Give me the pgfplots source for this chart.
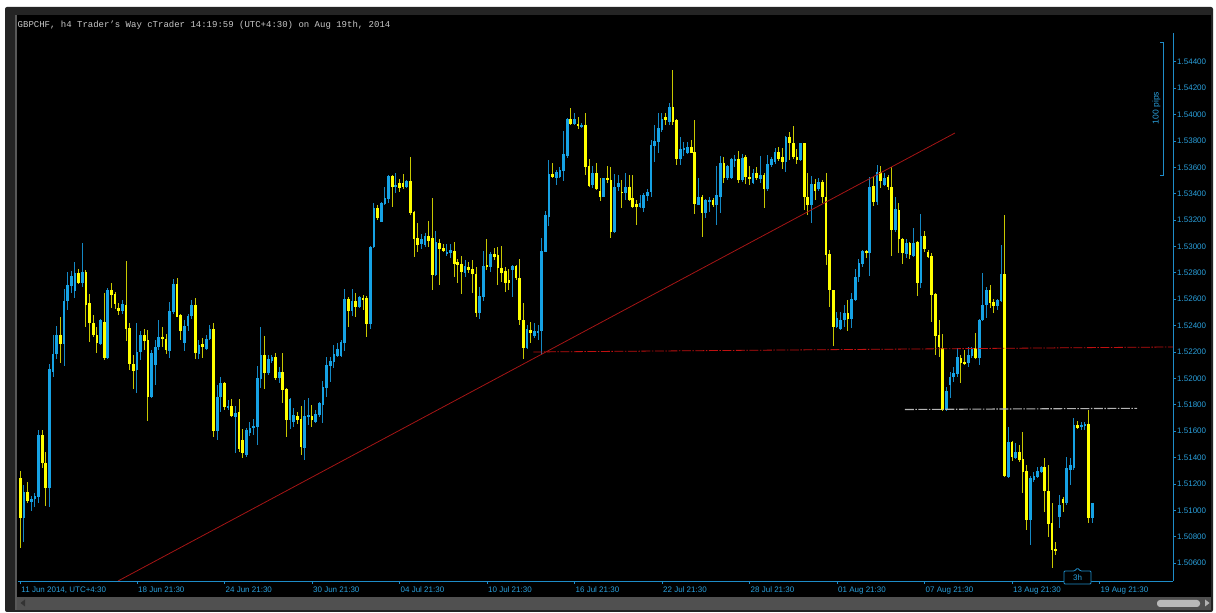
\documentclass[border=0pt]{standalone}
\usepackage{fontspec}
\setmainfont{Liberation Sans}
\newfontfamily\titlefont{Liberation Mono}
\usepackage{pgfplots}
\usepackage{pgfplotstable}
\pgfplotsset{compat=1.18}
\definecolor{cbull}{HTML}{16A2E4}
\definecolor{cbullwick}{HTML}{1488C4}
\definecolor{cbear}{HTML}{FFFF00}
\definecolor{cbearwick}{HTML}{C8C800}
\definecolor{axisblue}{HTML}{1E8CC8}
\definecolor{labelblue}{HTML}{2AA0DC}
\definecolor{trendred}{HTML}{A51515}
\definecolor{linered}{HTML}{C01010}
\definecolor{levelgrey}{HTML}{B4B4B4}
\definecolor{titlegrey}{HTML}{C8C8C8}
\definecolor{framegrey}{HTML}{242424}
\definecolor{scrollgrey}{HTML}{505050}

% GBPCHF h4 candles: bar index, open, high, low, close
\pgfplotstableread{
i o h l c
1 1.51245 1.51298 1.50714 1.50942
2 1.50942 1.51192 1.50759 1.51139
3 1.51139 1.51214 1.51055 1.51070
4 1.51063 1.51108 1.50995 1.51086
5 1.51086 1.51131 1.51025 1.51108
6 1.51101 1.51609 1.51055 1.51571
7 1.51571 1.51609 1.51321 1.51359
8 1.51359 1.51442 1.51032 1.51169
9 1.51169 1.52109 1.51025 1.52071
10 1.52048 1.52329 1.52010 1.52185
11 1.52185 1.52397 1.52147 1.52329
12 1.52329 1.52465 1.52116 1.52260
13 1.52260 1.52677 1.52094 1.52586
14 1.52586 1.52806 1.52518 1.52708
15 1.52700 1.52814 1.52647 1.52776
16 1.52662 1.52882 1.52609 1.52799
17 1.52799 1.52829 1.52715 1.52723
18 1.52723 1.53026 1.52693 1.52806
19 1.52806 1.52821 1.52389 1.52556
20 1.52571 1.52639 1.52276 1.52420
21 1.52420 1.52480 1.52314 1.52329
22 1.52329 1.52389 1.52192 1.52268
23 1.52260 1.52450 1.52253 1.52442
24 1.52427 1.52647 1.52139 1.52154
25 1.52154 1.52685 1.52147 1.52670
26 1.52670 1.52723 1.52533 1.52632
27 1.52639 1.52655 1.52526 1.52564
28 1.52533 1.52571 1.52480 1.52511
29 1.52511 1.52594 1.52488 1.52564
30 1.52556 1.52890 1.52283 1.52374
31 1.52382 1.52420 1.52063 1.52109
32 1.52109 1.52177 1.51919 1.52056
33 1.52063 1.52420 1.51889 1.52200
34 1.52200 1.52359 1.52139 1.52329
35 1.52329 1.52374 1.52215 1.52283
36 1.52291 1.52367 1.51677 1.51859
37 1.51859 1.52215 1.51851 1.52192
38 1.52101 1.52291 1.51950 1.52238
39 1.52238 1.52442 1.52215 1.52314
40 1.52314 1.52389 1.52238 1.52298
41 1.52298 1.52336 1.52185 1.52215
42 1.52207 1.52579 1.52154 1.52511
43 1.52503 1.52753 1.52488 1.52715
44 1.52715 1.52761 1.52465 1.52465
45 1.52480 1.52488 1.52291 1.52359
46 1.52268 1.52442 1.52207 1.52397
47 1.52397 1.52488 1.52359 1.52473
48 1.52473 1.52594 1.52450 1.52556
49 1.52556 1.52609 1.52147 1.52192
50 1.52185 1.52291 1.52147 1.52253
51 1.52260 1.52306 1.52154 1.52238
52 1.52223 1.52329 1.52215 1.52298
53 1.52298 1.52404 1.52291 1.52374
54 1.52374 1.52420 1.51556 1.51601
55 1.51601 1.51950 1.51533 1.51859
56 1.51859 1.52010 1.51745 1.51965
57 1.51965 1.51972 1.51760 1.51783
58 1.51775 1.51836 1.51760 1.51791
59 1.51791 1.51844 1.51707 1.51715
60 1.51707 1.51791 1.51434 1.51737
61 1.51745 1.51844 1.51442 1.51465
62 1.51533 1.51616 1.51396 1.51434
63 1.51419 1.51624 1.51404 1.51609
64 1.51586 1.51669 1.51563 1.51624
65 1.51624 1.51692 1.51571 1.51639
66 1.51631 1.52094 1.51495 1.52003
67 1.51995 1.52390 1.51927 1.52177
68 1.52177 1.52321 1.51919 1.52041
69 1.52041 1.52177 1.52025 1.52147
70 1.52132 1.52177 1.52116 1.52162
71 1.52162 1.52192 1.51988 1.52003
72 1.52003 1.52086 1.51965 1.52048
73 1.52048 1.52192 1.51813 1.51912
74 1.51919 1.51927 1.51556 1.51684
75 1.51684 1.51851 1.51616 1.51844
76 1.51669 1.51775 1.51631 1.51722
77 1.51715 1.51745 1.51654 1.51684
78 1.51692 1.51791 1.51419 1.51480
79 1.51472 1.51836 1.51381 1.51715
80 1.51707 1.51851 1.51646 1.51722
81 1.51715 1.51798 1.51631 1.51684
82 1.51669 1.51760 1.51662 1.51730
83 1.51722 1.51821 1.51707 1.51813
84 1.51798 1.51980 1.51662 1.51935
85 1.51927 1.52162 1.51859 1.52101
86 1.52094 1.52162 1.51972 1.52132
87 1.52124 1.52253 1.52079 1.52185
88 1.52169 1.52268 1.52162 1.52223
89 1.52169 1.52291 1.52162 1.52276
90 1.52268 1.52677 1.52207 1.52602
91 1.52602 1.52617 1.52389 1.52511
92 1.52511 1.52677 1.52473 1.52586
93 1.52586 1.52647 1.52465 1.52541
94 1.52541 1.52624 1.52533 1.52617
95 1.52609 1.52632 1.52518 1.52602
96 1.52609 1.52624 1.52314 1.52412
97 1.52412 1.53003 1.52374 1.52996
98 1.52996 1.53329 1.52988 1.53291
99 1.53291 1.53314 1.53200 1.53216
100 1.53185 1.53337 1.53185 1.53329
101 1.53322 1.53451 1.53314 1.53367
102 1.53360 1.53541 1.53329 1.53534
103 1.53534 1.53541 1.53299 1.53451
104 1.53451 1.53557 1.53405 1.53466
105 1.53481 1.53511 1.53413 1.53443
106 1.53481 1.53549 1.53435 1.53451
107 1.53451 1.53504 1.53443 1.53496
108 1.53496 1.53678 1.53238 1.53253
109 1.53261 1.53269 1.52920 1.53056
110 1.53064 1.53178 1.52958 1.53011
111 1.53018 1.53094 1.52981 1.53056
112 1.53011 1.53102 1.52996 1.53079
113 1.53079 1.53193 1.52996 1.53041
114 1.53064 1.53367 1.52670 1.52783
115 1.52783 1.53117 1.52776 1.53034
116 1.53026 1.53056 1.52708 1.52981
117 1.52988 1.53018 1.52958 1.52965
118 1.52950 1.53018 1.52928 1.52958
119 1.52950 1.53018 1.52912 1.52973
120 1.52965 1.53034 1.52768 1.52867
121 1.52882 1.52905 1.52723 1.52859
122 1.52867 1.52928 1.52639 1.52806
123 1.52799 1.52897 1.52768 1.52852
124 1.52844 1.52882 1.52799 1.52821
125 1.52829 1.52897 1.52647 1.52791
126 1.52791 1.52844 1.52465 1.52495
127 1.52495 1.52693 1.52450 1.52624
128 1.52617 1.52965 1.52586 1.52852
129 1.52859 1.53056 1.52821 1.52844
130 1.52844 1.52958 1.52806 1.52943
131 1.52943 1.52988 1.52897 1.52920
132 1.52935 1.52996 1.52708 1.52837
133 1.52837 1.53003 1.52730 1.52799
134 1.52814 1.52844 1.52655 1.52723
135 1.52746 1.52829 1.52670 1.52723
136 1.52821 1.52859 1.52617 1.52852
137 1.52852 1.52859 1.52746 1.52761
138 1.52761 1.52905 1.52404 1.52442
139 1.52442 1.52571 1.52147 1.52230
140 1.52230 1.52404 1.52223 1.52374
141 1.52367 1.52427 1.52268 1.52344
142 1.52321 1.52420 1.52306 1.52359
143 1.52351 1.52404 1.52291 1.52359
144 1.52359 1.53064 1.52177 1.52965
145 1.52958 1.53269 1.52958 1.53238
146 1.53223 1.53655 1.53155 1.53549
147 1.53549 1.53632 1.53519 1.53526
148 1.53519 1.53579 1.53466 1.53564
149 1.53526 1.53602 1.53519 1.53579
150 1.53572 1.53875 1.53496 1.53701
151 1.53686 1.53974 1.53670 1.53966
152 1.53966 1.54049 1.53921 1.53928
153 1.53928 1.54011 1.53921 1.53966
154 1.53928 1.53981 1.53890 1.53913
155 1.53905 1.53936 1.53898 1.53921
156 1.53921 1.54011 1.53541 1.53602
157 1.53610 1.53663 1.53450 1.53458
158 1.53466 1.53610 1.53443 1.53557
159 1.53557 1.53632 1.53428 1.53435
160 1.53420 1.53519 1.53344 1.53375
161 1.53375 1.53519 1.53375 1.53519
162 1.53519 1.53610 1.53481 1.53504
163 1.53504 1.53602 1.53064 1.53109
164 1.53109 1.53549 1.53102 1.53451
165 1.53451 1.53541 1.53420 1.53481
166 1.53413 1.53504 1.53291 1.53405
167 1.53405 1.53557 1.53352 1.53451
168 1.53451 1.53541 1.53344 1.53352
169 1.53367 1.53541 1.53291 1.53299
170 1.53322 1.53352 1.53163 1.53299
171 1.53299 1.53390 1.53291 1.53329
172 1.53291 1.53405 1.53261 1.53390
173 1.53382 1.53435 1.53344 1.53413
174 1.53413 1.53807 1.53375 1.53769
175 1.53761 1.53921 1.53640 1.53799
176 1.53792 1.54011 1.53708 1.53898
177 1.53883 1.54011 1.53867 1.53966
178 1.53981 1.54011 1.53921 1.53958
179 1.53943 1.54087 1.53921 1.54057
180 1.54057 1.54337 1.53921 1.53943
181 1.53958 1.53966 1.53617 1.53663
182 1.53663 1.53830 1.53617 1.53739
183 1.53731 1.53792 1.53686 1.53746
184 1.53708 1.53792 1.53701 1.53754
185 1.53754 1.53807 1.53708 1.53708
186 1.53716 1.53958 1.53246 1.53322
187 1.53314 1.53519 1.53314 1.53375
188 1.53375 1.53390 1.53072 1.53253
189 1.53253 1.53360 1.53216 1.53352
190 1.53337 1.53375 1.53261 1.53352
191 1.53352 1.53367 1.53299 1.53314
192 1.53314 1.53610 1.53163 1.53390
193 1.53375 1.53686 1.53253 1.53632
194 1.53632 1.53678 1.53481 1.53519
195 1.53519 1.53617 1.53504 1.53610
196 1.53519 1.53670 1.53511 1.53663
197 1.53648 1.53693 1.53602 1.53663
198 1.53663 1.53723 1.53481 1.53504
199 1.53504 1.53701 1.53489 1.53670
200 1.53678 1.53693 1.53473 1.53526
201 1.53526 1.53610 1.53466 1.53511
202 1.53481 1.53587 1.53473 1.53557
203 1.53557 1.53602 1.53504 1.53519
204 1.53511 1.53686 1.53481 1.53541
205 1.53541 1.53557 1.53291 1.53435
206 1.53435 1.53693 1.53420 1.53625
207 1.53617 1.53678 1.53602 1.53663
208 1.53640 1.53746 1.53625 1.53716
209 1.53716 1.53754 1.53648 1.53663
210 1.53678 1.53746 1.53587 1.53640
211 1.53640 1.53837 1.53564 1.53830
212 1.53830 1.53867 1.53655 1.53784
213 1.53784 1.53913 1.53663 1.53678
214 1.53678 1.53739 1.53625 1.53655
215 1.53655 1.53784 1.53648 1.53784
216 1.53784 1.53784 1.53276 1.53375
217 1.53375 1.53557 1.53238 1.53314
218 1.53314 1.53534 1.53178 1.53473
219 1.53473 1.53511 1.53352 1.53420
220 1.53435 1.53519 1.53420 1.53489
221 1.53489 1.53504 1.53329 1.53375
222 1.53375 1.53557 1.52859 1.52935
223 1.52943 1.52973 1.52541 1.52670
224 1.52670 1.52670 1.52245 1.52389
225 1.52389 1.52503 1.52382 1.52458
226 1.52374 1.52503 1.52367 1.52442
227 1.52442 1.52556 1.52389 1.52495
228 1.52495 1.52594 1.52359 1.52450
229 1.52450 1.52647 1.52382 1.52602
230 1.52594 1.52829 1.52586 1.52768
231 1.52768 1.52905 1.52730 1.52874
232 1.52867 1.52973 1.52844 1.52965
233 1.52965 1.52973 1.52912 1.52950
234 1.52950 1.53526 1.52776 1.53451
235 1.53458 1.53526 1.53307 1.53337
236 1.53337 1.53617 1.53314 1.53564
237 1.53564 1.53610 1.53443 1.53496
238 1.53466 1.53557 1.53458 1.53519
239 1.53526 1.53541 1.53428 1.53451
240 1.53451 1.53602 1.52928 1.53125
241 1.53125 1.53375 1.53109 1.53284
242 1.53276 1.53329 1.52950 1.53056
243 1.53056 1.53064 1.52867 1.52950
244 1.52943 1.53056 1.52912 1.53026
245 1.53026 1.53034 1.52905 1.52935
246 1.52928 1.53140 1.52920 1.53026
247 1.53034 1.53041 1.52624 1.52723
248 1.52723 1.53246 1.52685 1.53079
249 1.53079 1.53117 1.52958 1.52981
250 1.52958 1.52973 1.52912 1.52920
251 1.52928 1.52950 1.52427 1.52632
252 1.52639 1.52647 1.52177 1.52321
253 1.52329 1.52442 1.52162 1.52238
254 1.52230 1.52336 1.51753 1.51760
255 1.51760 1.51935 1.51753 1.51904
256 1.51950 1.52048 1.51851 1.52010
257 1.52010 1.52086 1.51972 1.52041
258 1.52033 1.52230 1.52010 1.52162
259 1.52154 1.52177 1.51965 1.52116
260 1.52124 1.52215 1.52101 1.52116
261 1.52116 1.52238 1.52086 1.52177
262 1.52169 1.52238 1.52154 1.52230
263 1.52230 1.52344 1.52147 1.52154
264 1.52154 1.52450 1.52101 1.52442
265 1.52442 1.52799 1.52435 1.52556
266 1.52556 1.52693 1.52458 1.52670
267 1.52670 1.52708 1.52533 1.52571
268 1.52579 1.52602 1.52495 1.52549
269 1.52549 1.52602 1.52518 1.52594
270 1.52586 1.53011 1.52579 1.52791
271 1.52791 1.53238 1.51252 1.51260
272 1.51252 1.51631 1.51245 1.51518
273 1.51518 1.51525 1.51374 1.51404
274 1.51396 1.51510 1.51389 1.51442
275 1.51442 1.51495 1.51366 1.51381
276 1.51389 1.51593 1.51131 1.51290
277 1.51298 1.51343 1.50851 1.50926
278 1.50926 1.51260 1.50737 1.51245
279 1.51230 1.51290 1.51214 1.51260
280 1.51252 1.51328 1.51245 1.51298
281 1.51290 1.51336 1.51283 1.51328
282 1.51328 1.51396 1.50987 1.51146
283 1.51146 1.51343 1.50798 1.50896
284 1.50904 1.51055 1.50563 1.50699
285 1.50707 1.50759 1.50661 1.50691
286 1.50949 1.51116 1.50866 1.51040
287 1.51086 1.51101 1.50987 1.51055
288 1.51055 1.51404 1.51040 1.51321
289 1.51305 1.51396 1.51192 1.51343
290 1.51321 1.51700 1.51305 1.51646
291 1.51646 1.51677 1.51616 1.51624
292 1.51631 1.51669 1.51609 1.51646
293 1.51639 1.51669 1.51609 1.51654
294 1.51654 1.51760 1.50904 1.50942
295 1.50942 1.51055 1.50904 1.51055
}\candles

\begin{document}
\begin{tikzpicture}
\fill[white] (0pt,0pt) rectangle (1216pt,613pt);
% window frame
\fill[framegrey, rounded corners=2pt] (5pt,1pt) rectangle (1213pt,606pt);
\fill[black] (17pt,16pt) rectangle (1211pt,598pt);
\fill[scrollgrey] (17pt,3pt) rectangle (1211pt,16pt);
\fill[gray!70!black] (15pt,3pt) rectangle (17pt,598pt);
\fill[gray!55, rounded corners=3pt] (1157pt,6pt) rectangle (1200pt,13pt);
\fill[gray!60] (1205pt,6.5pt) -- (1205pt,13.5pt) -- (1209.5pt,10pt) -- cycle;
\fill[gray!40!black] (25pt,6.5pt) -- (25pt,13.5pt) -- (20.5pt,10pt) -- cycle;

\begin{axis}[
  at={(18pt,32pt)}, anchor=south west, scale only axis,
  width=1155pt, height=548pt,
  xmin=0.37, xmax=317.16, ymin=1.50464, ymax=1.54618,
  axis x line*=bottom, axis y line*=right,
  axis line style={draw=axisblue, line width=0.9pt},
  tick align=outside, major tick length=3pt,
  tick style={draw=axisblue, line width=0.8pt},
  xtick={1,33,57,81,105,129,153,177,201,225,249,273,297},
  xticklabels={{11 Jun 2014, UTC+4:30},18 Jun 21:30,24 Jun 21:30,30 Jun 21:30,04 Jul 21:30,10 Jul 21:30,16 Jul 21:30,22 Jul 21:30,28 Jul 21:30,01 Aug 21:30,07 Aug 21:30,13 Aug 21:30,19 Aug 21:30},
  ytick={1.506,1.508,1.510,1.512,1.514,1.516,1.518,1.520,1.522,1.524,1.526,1.528,1.530,1.532,1.534,1.536,1.538,1.540,1.542,1.544},
  yticklabels={1.50600,1.50800,1.51000,1.51200,1.51400,1.51600,1.51800,1.52000,1.52200,1.52400,1.52600,1.52800,1.53000,1.53200,1.53400,1.53600,1.53800,1.54000,1.54200,1.54400},
  ticklabel style={text=labelblue, font=\fontsize{8}{9}\selectfont, inner sep=0pt},
  xticklabel style={anchor=north west, xshift=1pt, yshift=-3pt},
  yticklabel style={anchor=west, xshift=1pt},
]
% wicks
\addplot[draw=none, mark=none,
  restrict expr to domain={\thisrow{c}-\thisrow{o}}{0:1},
  error bars/.cd, y dir=both, y explicit, error mark=none,
  error bar style={draw=cbullwick, line width=1pt}]
  table[x=i, y expr={(\thisrow{h}+\thisrow{l})/2}, y error expr={(\thisrow{h}-\thisrow{l})/2}] {\candles};
\addplot[draw=none, mark=none,
  restrict expr to domain={\thisrow{c}-\thisrow{o}}{-1:-0.0000001},
  error bars/.cd, y dir=both, y explicit, error mark=none,
  error bar style={draw=cbearwick, line width=1pt}]
  table[x=i, y expr={(\thisrow{h}+\thisrow{l})/2}, y error expr={(\thisrow{h}-\thisrow{l})/2}] {\candles};
% bodies
\addplot[draw=none, mark=none,
  restrict expr to domain={\thisrow{c}-\thisrow{o}}{0:1},
  error bars/.cd, y dir=both, y explicit, error mark=none,
  error bar style={draw=cbull, line width=2.7pt}]
  table[x=i, y expr={(\thisrow{o}+\thisrow{c})/2}, y error expr={max(abs(\thisrow{c}-\thisrow{o})/2,0.00004)}] {\candles};
\addplot[draw=none, mark=none,
  restrict expr to domain={\thisrow{c}-\thisrow{o}}{-1:-0.0000001},
  error bars/.cd, y dir=both, y explicit, error mark=none,
  error bar style={draw=cbear, line width=2.7pt}]
  table[x=i, y expr={(\thisrow{o}+\thisrow{c})/2}, y error expr={max(abs(\thisrow{c}-\thisrow{o})/2,0.00004)}] {\candles};
% trend line and levels
\addplot[trendred, line width=0.8pt] coordinates {(27.8,1.50464) (257.36,1.53860)};
\addplot[linered, line width=0.8pt, dash pattern=on 9pt off 1.5pt on 1.5pt off 1.5pt] coordinates {(141.7,1.52200) (317.16,1.52238)};
\addplot[levelgrey, line width=1.1pt, dash pattern=on 9pt off 1.5pt on 1.5pt off 1.5pt] coordinates {(243.6,1.51764) (307.3,1.51773)};
\end{axis}

% title
\node[anchor=west, inner sep=0pt, text=titlegrey, font=\titlefont\fontsize{9}{10}\selectfont] at (17.5pt,588pt) {GBPCHF, h4 Trader’s Way cTrader 14:19:59 (UTC+4:30) on Aug 19th, 2014};
% 100 pips ruler
\draw[axisblue, line width=0.8pt] (1160pt,570.3pt) -- (1163pt,570.3pt) -- (1163pt,438pt) -- (1160pt,438pt);
\node[rotate=90, inner sep=0pt, text=labelblue, font=\fontsize{8.5}{9}\selectfont] at (1156.5pt,505pt) {100 pips};
% time frame box
\draw[axisblue, fill=black, line width=0.8pt, rounded corners=1pt] (1064pt,29pt) -- (1064pt,42pt) -- (1074.5pt,42pt) -- (1077.5pt,45pt) -- (1080.5pt,42pt) -- (1091pt,42pt) -- (1091pt,29pt) -- cycle;
\node[text=labelblue, inner sep=0pt, font=\fontsize{8}{9}\selectfont] at (1077.5pt,35.5pt) {3h};
\pgfresetboundingbox
\useasboundingbox (0pt,0pt) rectangle (1216pt,613pt);
\end{tikzpicture}
\end{document}
